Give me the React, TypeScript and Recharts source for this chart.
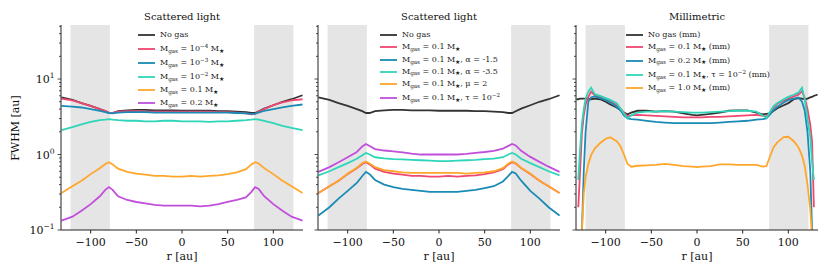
import { LineChart, Line, XAxis, YAxis, ReferenceArea } from 'recharts'

// radial grid (au) for the scattered light panels
const R_SCAT = [-132, -120, -110, -100, -90, -84, -80, -76, -70, -60, -50, -40, -30, -20, -10, 0, 10, 20, 30, 40, 50, 60, 70, 76, 80, 84, 90, 100, 110, 120, 132]

const NO_GAS = [5.7, 5.3, 4.8, 4.4, 4.0, 3.75, 3.55, 3.55, 3.75, 3.85, 3.9, 3.9, 3.85, 3.85, 3.85, 3.8, 3.8, 3.8, 3.8, 3.75, 3.75, 3.7, 3.65, 3.55, 3.55, 3.75, 4.05, 4.5, 5.0, 5.4, 6.1]
const GAS_1E4 = [5.5, 5.2, 4.8, 4.4, 4.0, 3.8, 3.6, 3.55, 3.7, 3.75, 3.75, 3.7, 3.7, 3.7, 3.7, 3.7, 3.7, 3.7, 3.7, 3.65, 3.65, 3.6, 3.5, 3.4, 3.45, 3.7, 4.0, 4.5, 4.9, 5.2, 5.4]
const GAS_1E3 = [4.4, 4.3, 4.2, 4.0, 3.8, 3.65, 3.55, 3.5, 3.6, 3.65, 3.65, 3.65, 3.6, 3.6, 3.6, 3.6, 3.6, 3.6, 3.6, 3.6, 3.6, 3.55, 3.5, 3.45, 3.45, 3.6, 3.8, 4.0, 4.2, 4.4, 4.6]
const GAS_1E2 = [2.1, 2.3, 2.5, 2.7, 2.85, 2.9, 2.95, 2.9, 2.85, 2.8, 2.8, 2.75, 2.75, 2.8, 2.8, 2.75, 2.75, 2.75, 2.7, 2.75, 2.75, 2.8, 2.85, 2.9, 2.95, 2.9, 2.8, 2.6, 2.4, 2.25, 2.1]
const GAS_01 = [0.31, 0.38, 0.45, 0.55, 0.66, 0.75, 0.79, 0.74, 0.65, 0.59, 0.56, 0.54, 0.52, 0.52, 0.51, 0.51, 0.52, 0.51, 0.52, 0.53, 0.55, 0.58, 0.64, 0.74, 0.79, 0.76, 0.66, 0.55, 0.45, 0.38, 0.31]
const GAS_02 = [0.133, 0.15, 0.18, 0.22, 0.28, 0.34, 0.37, 0.34, 0.28, 0.25, 0.235, 0.225, 0.215, 0.21, 0.21, 0.21, 0.21, 0.205, 0.21, 0.22, 0.235, 0.25, 0.27, 0.32, 0.37, 0.35, 0.28, 0.22, 0.18, 0.15, 0.133]

const ALPHA_15 = [0.155, 0.2, 0.26, 0.33, 0.42, 0.52, 0.59, 0.55, 0.46, 0.4, 0.37, 0.35, 0.34, 0.33, 0.32, 0.32, 0.32, 0.32, 0.33, 0.34, 0.36, 0.38, 0.44, 0.52, 0.59, 0.56, 0.45, 0.33, 0.26, 0.2, 0.155]
const ALPHA_35 = [0.53, 0.6, 0.68, 0.77, 0.88, 0.98, 1.05, 1.0, 0.92, 0.89, 0.87, 0.86, 0.85, 0.84, 0.83, 0.82, 0.82, 0.83, 0.84, 0.85, 0.87, 0.88, 0.92, 1.0, 1.05, 1.0, 0.88, 0.77, 0.68, 0.6, 0.53]
const MU_2 = [0.31, 0.38, 0.45, 0.56, 0.67, 0.77, 0.81, 0.76, 0.68, 0.62, 0.6, 0.58, 0.57, 0.57, 0.57, 0.57, 0.57, 0.57, 0.56, 0.57, 0.58, 0.6, 0.66, 0.76, 0.81, 0.77, 0.67, 0.56, 0.45, 0.38, 0.31]
const TAU_SCAT = [0.59, 0.68, 0.79, 0.92, 1.08, 1.28, 1.38, 1.3, 1.18, 1.13, 1.1, 1.07, 1.03, 1.0, 1.0, 1.0, 1.0, 1.0, 1.02, 1.05, 1.08, 1.12, 1.2, 1.3, 1.38, 1.32, 1.12, 0.93, 0.8, 0.69, 0.59]

// radial grid (au) for the millimetric panel
const R_MM = [-132, -130, -128, -126, -124, -122, -119, -116, -112, -106, -100, -95, -88, -84, -80, -76, -72, -65, -55, -45, -35, -25, -15, -5, 0, 5, 15, 25, 35, 45, 55, 65, 72, 76, 80, 84, 88, 95, 100, 106, 111, 115, 118, 121, 124, 126, 128, 130, 132]

const MM_NO_GAS = [5.4, 5.4, 5.5, 5.5, 5.5, 5.5, 5.5, 5.4, 5.5, 5.4, 5.0, 4.6, 4.2, 3.9, 3.6, 3.4, 3.6, 3.8, 3.8, 3.7, 3.75, 3.7, 3.5, 3.35, 3.3, 3.35, 3.45, 3.6, 3.8, 3.85, 3.85, 3.6, 3.4, 3.45, 3.5, 3.8, 4.1, 4.5, 4.8, 5.4, 5.6, 5.5, 5.4, 5.5, 5.7, 5.8, 6.0, 6.1, 6.2]
const MM_GAS_01 = [null, 0.2, 0.6, 1.9, 3.3, 4.6, 5.8, 6.8, 6.1, 5.8, 5.5, 5.1, 4.5, 4.1, 3.6, 3.2, 3.3, 3.35, 3.3, 3.25, 3.2, 3.15, 3.1, 3.1, 3.1, 3.1, 3.15, 3.15, 3.2, 3.25, 3.3, 3.35, 3.25, 3.2, 3.6, 4.2, 4.7, 5.2, 5.5, 5.9, 6.2, 6.9, 5.6, 4.0, 2.5, 1.5, 0.2, null, null]
const MM_GAS_02 = [null, 0.03, 0.05, 0.1, 0.6, 2.0, 5.0, 5.7, 5.9, 5.6, 5.3, 4.9, 4.3, 3.9, 3.3, 3.0, 2.95, 2.9, 2.8, 2.7, 2.65, 2.6, 2.6, 2.6, 2.6, 2.6, 2.6, 2.65, 2.7, 2.75, 2.8, 2.9, 2.95, 3.0, 3.4, 3.9, 4.3, 4.9, 5.3, 5.5, 5.7, 5.0, 3.8, 2.0, 0.6, 0.1, 0.05, 0.03, null]
const MM_TAU = [null, 0.46, 1.2, 2.6, 4.0, 5.5, 6.8, 7.7, 6.3, 6.0, 5.6, 5.3, 4.8, 4.1, 3.5, 3.0, 3.3, 3.6, 3.7, 3.7, 3.75, 3.7, 3.65, 3.6, 3.6, 3.6, 3.65, 3.7, 3.75, 3.8, 3.8, 3.7, 3.3, 3.05, 3.7, 4.4, 4.8, 5.4, 5.8, 6.2, 6.6, 7.7, 5.3, 3.0, 1.7, 0.8, 0.46, null, null]
const MM_GAS_1 = [null, 0.03, 0.05, 0.1, 0.3, 0.5, 0.75, 0.98, 1.2, 1.42, 1.62, 1.69, 1.5, 1.3, 1.0, 0.75, 0.69, 0.71, 0.72, 0.73, 0.75, 0.73, 0.7, 0.69, 0.68, 0.69, 0.7, 0.74, 0.74, 0.73, 0.73, 0.73, 0.69, 0.7, 0.95, 1.25, 1.45, 1.7, 1.72, 1.5, 1.25, 0.97, 0.7, 0.4, 0.19, 0.08, 0.04, 0.03, null]

const Y_TICKS = [0.1, 0.2, 0.3, 0.4, 0.5, 0.6, 0.7, 0.8, 0.9, 1, 2, 3, 4, 5, 6, 7, 8, 9, 10, 20, 30, 40, 50]
const X_TICKS = [-100, -50, 0, 50, 100]
const X_DOMAIN = [-132.5, 132.5]
const Y_DOMAIN = [0.1, 52]
const SHADED = [[-122, -79], [79, 122]]

const C = {
  black: '#333333',
  pink: '#ef476f',
  blue: '#1a8bb5',
  teal: '#2fd5b9',
  orange: '#ffa62b',
  purple: '#c04fdc',
}

const PANEL_1 = [
  { key: 'noGas', label: 'No gas', color: C.black, values: NO_GAS },
  { key: 'g1e4', label: 'M_{gas} = 10^{\u22124} M_{\u2605}', color: C.pink, values: GAS_1E4 },
  { key: 'g1e3', label: 'M_{gas} = 10^{\u22123} M_{\u2605}', color: C.blue, values: GAS_1E3 },
  { key: 'g1e2', label: 'M_{gas} = 10^{\u22122} M_{\u2605}', color: C.teal, values: GAS_1E2 },
  { key: 'g01', label: 'M_{gas} = 0.1 M_{\u2605}', color: C.orange, values: GAS_01 },
  { key: 'g02', label: 'M_{gas} = 0.2 M_{\u2605}', color: C.purple, values: GAS_02 },
]

const PANEL_2 = [
  { key: 'noGas', label: 'No gas', color: C.black, values: NO_GAS },
  { key: 'g01', label: 'M_{gas} = 0.1 M_{\u2605}', color: C.pink, values: GAS_01 },
  { key: 'a15', label: 'M_{gas} = 0.1 M_{\u2605}, \u03b1 = -1.5', color: C.blue, values: ALPHA_15 },
  { key: 'a35', label: 'M_{gas} = 0.1 M_{\u2605}, \u03b1 = -3.5', color: C.teal, values: ALPHA_35 },
  { key: 'mu2', label: 'M_{gas} = 0.1 M_{\u2605}, \u03bc = 2', color: C.orange, values: MU_2 },
  { key: 'tau', label: 'M_{gas} = 0.1 M_{\u2605}, \u03c4 = 10^{\u22122}', color: C.purple, values: TAU_SCAT },
]

const PANEL_3 = [
  { key: 'noGas', label: 'No gas (mm)', color: C.black, values: MM_NO_GAS },
  { key: 'g01', label: 'M_{gas} = 0.1 M_{\u2605} (mm)', color: C.pink, values: MM_GAS_01 },
  { key: 'g02', label: 'M_{gas} = 0.2 M_{\u2605} (mm)', color: C.blue, values: MM_GAS_02 },
  { key: 'tau', label: 'M_{gas} = 0.1 M_{\u2605}, \u03c4 = 10^{\u22122} (mm)', color: C.teal, values: MM_TAU },
  { key: 'g1', label: 'M_{gas} = 1.0 M_{\u2605} (mm)', color: C.orange, values: MM_GAS_1 },
]

const FONT = '"DejaVu Serif", serif'
const INK = '#222'

function buildRows(rs, series) {
  return rs.map((r, i) => {
    const row: Record<string, number | null> = { r }
    series.forEach(s => { row[s.key] = s.values[i] })
    return row
  })
}

function fmtX(v: number) {
  return v < 0 ? '\u2212' + Math.abs(v) : String(v)
}

function YTick(props) {
  const { x, y, payload, showLabels } = props
  const lg = Math.log10(payload.value)
  const exp = Math.round(lg)
  const major = Math.abs(lg - exp) < 1e-6
  const len = major ? 3.5 : 2
  return (
    <g>
      <line x1={x - len} x2={x} y1={y} y2={y} stroke={INK} strokeWidth={0.8} />
      {showLabels && major && (
        <text x={x - len - 3} y={y} dy={4} textAnchor="end" fontSize={11} fill="#111">
          10<tspan dy={-5} fontSize={7.5}>{exp < 0 ? '\u2212' + -exp : exp}</tspan>
        </text>
      )}
    </g>
  )
}

// tiny markup: _{sub} and ^{sup}
function RichLabel({ text }: { text: string }) {
  const parts = text.split(/([_^]\{[^}]*\})/g).filter(Boolean)
  return (
    <>
      {parts.map((p, i) => {
        if (p.startsWith('_{')) {
          return <span key={i} style={{ fontSize: 5.6, position: 'relative', top: 1.5 }}>{p.slice(2, -1)}</span>
        }
        if (p.startsWith('^{')) {
          return <span key={i} style={{ fontSize: 5.6, position: 'relative', top: -3 }}>{p.slice(2, -1)}</span>
        }
        return <span key={i}>{p}</span>
      })}
    </>
  )
}

function LegendBox({ left, rowsY, series }) {
  return (
    <>
      {series.map((s, i) => (
        <div
          key={s.key}
          style={{
            position: 'absolute', left, top: rowsY[i] - 5, height: 10, lineHeight: '10px',
            fontSize: 8, color: INK, whiteSpace: 'nowrap', display: 'flex', alignItems: 'center',
          }}
        >
          <svg width={17} height={10} style={{ marginRight: 5 }}>
            <line x1={0} x2={17} y1={5} y2={5} stroke={s.color} strokeWidth={1.8} />
          </svg>
          <span><RichLabel text={s.label} /></span>
        </div>
      ))}
    </>
  )
}

function Panel({ left, yAxisWidth, rs, series, showLabels }) {
  const data = buildRows(rs, series)
  return (
    <div style={{ position: 'absolute', left, top: 0 }}>
      <LineChart
        width={yAxisWidth + 249}
        height={277}
        data={data}
        margin={{ top: 25, right: 7, bottom: 0, left: 0 }}
        style={{ fontFamily: FONT }}
      >
        {SHADED.map(([a, b]) => (
          <ReferenceArea key={a} x1={a} x2={b} fill="#e5e5e5" fillOpacity={1} stroke="none" />
        ))}
        <XAxis
          dataKey="r" type="number" domain={X_DOMAIN} ticks={X_TICKS} allowDataOverflow
          height={47} tickSize={3.5} tickMargin={4.5} tickFormatter={fmtX}
          tick={{ fontSize: 11, fill: '#111' }} tickLine={{ stroke: INK }} axisLine={{ stroke: INK }}
        />
        <XAxis
          xAxisId="top" orientation="top" dataKey="r" type="number" domain={X_DOMAIN}
          allowDataOverflow height={0} tick={false} tickLine={false} axisLine={{ stroke: INK }}
        />
        <YAxis
          type="number" scale="log" domain={Y_DOMAIN} ticks={Y_TICKS} allowDataOverflow interval={0}
          width={yAxisWidth} tickSize={0} tickMargin={0} tickLine={false} axisLine={{ stroke: INK }}
          tick={(p) => <YTick {...p} showLabels={showLabels} />}
        />
        <YAxis
          yAxisId="right" orientation="right" type="number" scale="log" domain={Y_DOMAIN}
          allowDataOverflow width={0} tick={false} tickLine={false} axisLine={{ stroke: INK }}
        />
        {series.map(s => (
          <Line
            key={s.key} dataKey={s.key} type="linear" stroke={s.color} strokeWidth={1.8}
            dot={false} activeDot={false} isAnimationActive={false}
          />
        ))}
      </LineChart>
    </div>
  )
}

const textBase = { position: 'absolute' as const, textAlign: 'center' as const, color: '#111', whiteSpace: 'nowrap' as const }

export default function App() {
  const centers = [182, 439, 697]
  const titles = ['Scattered light', 'Scattered light', 'Millimetric']
  return (
    <div style={{ position: 'absolute', left: 0, top: 0, width: 830, height: 277, background: '#fff', fontFamily: FONT }}>
      <Panel left={0} yAxisWidth={61} rs={R_SCAT} series={PANEL_1} showLabels />
      <Panel left={308} yAxisWidth={10} rs={R_SCAT} series={PANEL_2} showLabels={false} />
      <Panel left={566} yAxisWidth={10} rs={R_MM} series={PANEL_3} showLabels={false} />

      <LegendBox left={138} rowsY={[35, 49, 63, 77, 90, 103]} series={PANEL_1} />
      <LegendBox left={380} rowsY={[35, 47.3, 60, 71.7, 84.3, 98.3]} series={PANEL_2} />
      <LegendBox left={626} rowsY={[35, 47.3, 60.7, 75, 88.3]} series={PANEL_3} />

      {centers.map((cx, i) => (
        <div key={'t' + i} style={{ ...textBase, left: cx - 100, width: 200, top: 11, fontSize: 10, lineHeight: '12px' }}>
          {titles[i]}
        </div>
      ))}
      {centers.map((cx, i) => (
        <div key={'x' + i} style={{ ...textBase, left: cx - 50, width: 100, top: 250, fontSize: 11, lineHeight: '14px' }}>
          r [au]
        </div>
      ))}
      <div
        style={{
          ...textBase, left: 16 - 50, top: 128 - 7, width: 100, height: 14, fontSize: 11,
          lineHeight: '14px', transform: 'rotate(-90deg)',
        }}
      >
        FWHM [au]
      </div>
    </div>
  )
}
